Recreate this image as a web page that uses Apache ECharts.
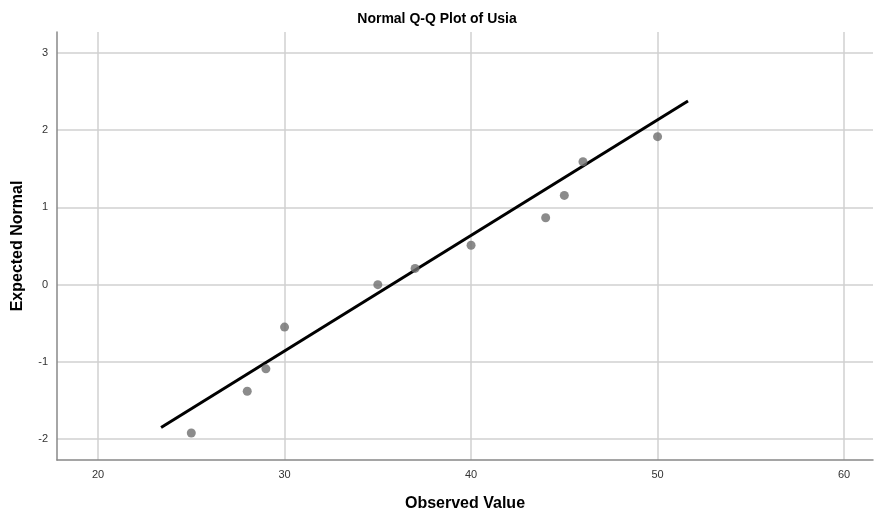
<!DOCTYPE html>
<html>
<head>
<meta charset="utf-8">
<script src="https://cdn.jsdelivr.net/npm/echarts@6/dist/echarts.min.js"></script>
<style>html,body{margin:0;padding:0;background:#fff}#c{width:874px;height:512px}</style>
</head>
<body>
<div id="c"></div>
<script>
var observed = [25, 28, 29, 30, 35, 37, 40, 44, 45, 46, 50];
var expected = [-1.92, -1.38, -1.09, -0.55, 0.0, 0.21, 0.51, 0.865, 1.155, 1.59, 1.915];
var lineX = [23.38, 51.63];
var lineY = [-1.85, 2.378];
var xTicks = [20, 30, 40, 50, 60];
var yTicks = [-2, -1, 0, 1, 2, 3];

var pts = observed.map(function (v, i) { return [v, expected[i]]; });
var linePts = lineX.map(function (v, i) { return [v, lineY[i]]; });
var font = '"Liberation Sans", Arial, sans-serif';

var chart = echarts.init(document.getElementById('c'), null, {renderer: 'canvas'});
chart.setOption({
  animation: false,
  backgroundColor: '#fff',
  title: {
    text: 'Normal Q-Q Plot of Usia',
    left: 'center', top: 7,
    textStyle: {fontFamily: font, fontSize: 14, fontWeight: 'bold', color: '#000'}
  },
  grid: {left: 57, top: 32, right: 1, bottom: 52, containLabel: false, outerBoundsMode: 'none'},
  xAxis: {
    type: 'value', min: 17.8, max: 61.55,
    name: 'Observed Value', nameLocation: 'middle', nameGap: 36,
    nameTextStyle: {fontFamily: font, fontSize: 16, fontWeight: 'bold', color: '#000'},
    axisLine: {show: true, onZero: false, lineStyle: {color: '#888', width: 1.5}},
    axisTick: {show: false, customValues: xTicks},
    axisLabel: {customValues: xTicks, fontFamily: font, fontSize: 11, color: '#333', margin: 9},
    splitLine: {show: true, lineStyle: {color: '#d0d0d0', width: 1.5}}
  },
  yAxis: {
    type: 'value', min: -2.27, max: 3.27,
    name: 'Expected Normal', nameLocation: 'middle', nameGap: 31,
    nameTextStyle: {fontFamily: font, fontSize: 16, fontWeight: 'bold', color: '#000'},
    axisLine: {show: true, onZero: false, lineStyle: {color: '#888', width: 1.5}},
    axisTick: {show: false, customValues: yTicks},
    axisLabel: {customValues: yTicks, fontFamily: font, fontSize: 11, color: '#333', margin: 9},
    splitLine: {show: true, lineStyle: {color: '#d0d0d0', width: 1.5}}
  },
  series: [
    {
      type: 'line', data: linePts, symbol: 'none',
      lineStyle: {color: '#000', width: 3}, z: 2
    },
    {
      type: 'scatter', data: pts, symbol: 'circle', symbolSize: 9,
      itemStyle: {color: '#6e6e6e'}, z: 3
    }
  ]
});
</script>
</body>
</html>
